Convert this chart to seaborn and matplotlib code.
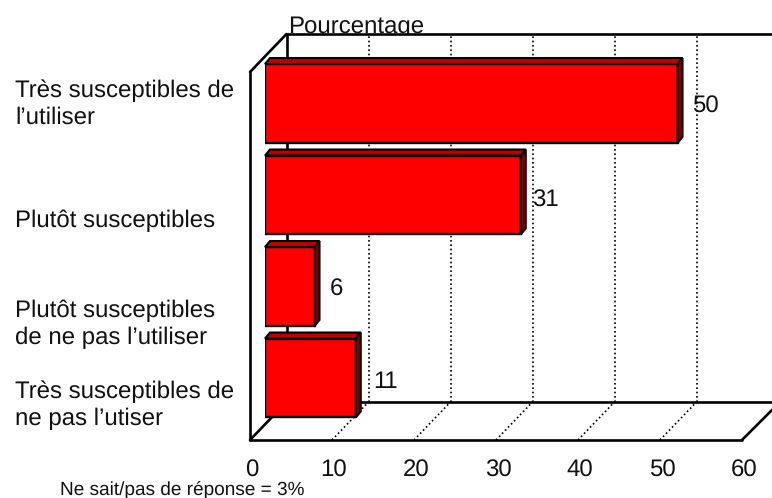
import matplotlib
matplotlib.use("Agg")
import matplotlib.pyplot as plt
import seaborn as sns
from matplotlib.patches import Polygon, Rectangle
from matplotlib.transforms import ScaledTranslation

categories = [
    "Très susceptibles de\nl’utiliser",
    "Plutôt susceptibles",
    "Plutôt susceptibles\nde ne pas l’utiliser",
    "Très susceptibles de\nne pas l’utiser",
]
values = [50, 31, 6, 11]
x_ticks = [0, 10, 20, 30, 40, 50, 60]
title = "Pourcentage"
note = "Ne sait/pas de réponse = 3%"

W, H = 772, 498
RED, TOP, SIDE = "#ff0000", "#c00000", "#800000"
INK = "#111111"
FS = 17.6

sns.set_theme(style="white")
plt.rcParams["font.family"] = ["Liberation Sans", "DejaVu Sans"]
plt.rcParams["text.hinting"] = "no_hinting"
plt.rcParams["text.hinting_factor"] = 1

fig = plt.figure(figsize=(W / 100, H / 100), dpi=100)


def pixel_axes(left, top, right, bottom):
    return fig.add_axes([left / W, 1 - bottom / H, (right - left) / W, (bottom - top) / H])


# cadre "3D" : plancher et mur du fond, y en pixels depuis le plancher
frame = pixel_axes(250, 34, 742, 440)
frame.set_xlim(0, 60)
frame.set_ylim(0, 406)
frame.patch.set_visible(False)
sns.despine(ax=frame, left=True, bottom=True)
frame.set_yticks([])
frame.set_xticks(x_ticks)
frame.set_xticklabels(x_ticks, fontsize=FS, color=INK)
frame.tick_params(axis="x", length=0, pad=14)
shift = ScaledTranslation(2 / 100, 0, fig.dpi_scale_trans)
for lab in frame.get_xticklabels():
    lab.set_transform(lab.get_transform() + shift)

depth_x = 36.5 / 8.2
depth_y = 38
wall_top = 406
right_edge = (W - 250) / 8.2

fig.text(288 / W, 1 - 33 / H, title, fontsize=FS, color=INK, va="baseline", zorder=1)
frame.set_zorder(2)
# le mur cache le bas du titre
frame.add_patch(Rectangle((depth_x, depth_y), right_edge - depth_x, wall_top - depth_y,
                          facecolor="white", edgecolor="none", clip_on=False, zorder=1))

line = dict(color="black", lw=1.9, clip_on=False, zorder=3, solid_capstyle="round")
dots = dict(color="black", lw=1.2, ls=(0, (1, 1.6)), clip_on=False, zorder=2)
for t in x_ticks[1:-1]:
    frame.plot([t, t + depth_x], [0, depth_y], **dots)
    frame.plot([t + depth_x, t + depth_x], [depth_y, wall_top], **dots)
frame.plot([0, 60], [0, 0], **line)
frame.plot([0, 0], [0, 368], **line)
frame.plot([0, depth_x], [368, wall_top], **line)
frame.plot([depth_x, right_edge], [wall_top, wall_top], **line)
frame.plot([depth_x, depth_x], [depth_y, wall_top], **line)
frame.plot([depth_x, right_edge], [depth_y, depth_y], **line)
frame.plot([0, depth_x], [0, depth_y], **line)
frame.plot([60, right_edge], [0, 30], **line)

# barres, sur un plan decale vers le fond
ax = pixel_axes(265, 57.75, 265 + 60 * 8.25, 423.75)
ax.set_zorder(3)
ax.patch.set_visible(False)
sns.barplot(x=values, y=categories, color=RED, saturation=1, width=0.863,
            edgecolor="black", linewidth=1.7, ax=ax)
ax.set_xlim(0, 60)
ax.set_ylim(3.5, -0.5)
ax.set_xticks([])
ax.set_yticks([])
ax.set_xlabel("")
ax.set_ylabel("")
sns.despine(ax=ax, left=True, bottom=True)

bar_dx = 5 / 8.25
bar_dy = 6 / 91.5
value_nudge = [(15, -3), (11, -6), (15, -3), (17, -4)]
label_nudge = [-1, -26, -38, -27]

for i, bar in enumerate(ax.patches[:len(values)]):
    x1 = bar.get_width()
    y0, y1 = bar.get_y(), bar.get_y() + bar.get_height()
    ax.add_patch(Polygon([(0, y0), (bar_dx, y0 - bar_dy), (x1 + bar_dx, y0 - bar_dy), (x1, y0)],
                         facecolor=TOP, edgecolor="black", lw=1.5, clip_on=False))
    ax.add_patch(Polygon([(x1, y0), (x1 + bar_dx, y0 - bar_dy), (x1 + bar_dx, y1 - bar_dy), (x1, y1)],
                         facecolor=SIDE, edgecolor="black", lw=1.5, clip_on=False))
    nx, ny = value_nudge[i]
    ax.annotate(str(values[i]), xy=(x1, i), xytext=(nx, ny), textcoords="offset pixels",
                fontsize=FS, color=INK, va="center", ha="left", annotation_clip=False)
    ax.annotate(categories[i], xy=(0, i), xytext=(-250, label_nudge[i]), textcoords="offset pixels",
                fontsize=FS, color=INK, va="center", ha="left", linespacing=1.25,
                annotation_clip=False)

fig.text(60 / W, 1 - 490.5 / H, note, fontsize=13.4, color=INK, va="center")

fig.savefig("out.png", dpi=100)
